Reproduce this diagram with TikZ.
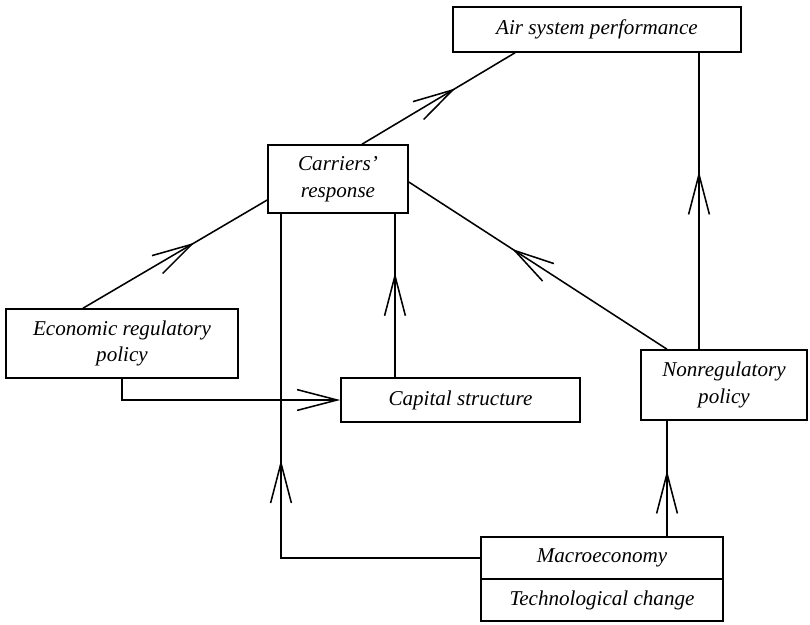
\documentclass[tikz,border=0pt]{standalone}
\usepackage{fontspec}
\setmainfont{Liberation Serif}
\usetikzlibrary{arrows.meta,decorations.markings}

\begin{document}
\begin{tikzpicture}
  [x=0.025cm,y=-0.025cm,line width=1.1pt,
   every node/.style={draw,rectangle,align=center,inner sep=0pt,
     font=\itshape\fontsize{15}{19}\selectfont},
   midarrow/.style={postaction={decorate,decoration={markings,
     mark=at position #1 with {\arrow{Straight Barb[length=1cm,width=0.52cm,line width=1.1pt]}}}}}]
  \useasboundingbox (0,0) rectangle (810,625);

  \node[minimum width=7.2cm,minimum height=1.125cm] (air) at (597,29.5) {Air system performance};
  \node[minimum width=3.5cm,minimum height=1.7cm] (carriers) at (338,179) {Carriers'\\response};
  \node[minimum width=5.8cm,minimum height=1.725cm] (econ) at (122,343.5) {Economic regulatory\\policy};
  \node[minimum width=5.975cm,minimum height=1.1cm] (capital) at (460.5,400) {Capital structure};
  \node[minimum width=4.15cm,minimum height=1.75cm] (nonreg) at (724,385) {Nonregulatory\\policy};
  \node[minimum width=6.05cm,minimum height=1.05cm] (macro) at (602,558) {Macroeconomy};
  \node[minimum width=6.05cm,minimum height=1.05cm] (tech) at (602,600) {Technological change};

  \coordinate (nrtop) at ([xshift=-0.625cm]nonreg.north);
  \coordinate (captop) at ([xshift=-1.6375cm]capital.north);
  \coordinate (mactop) at ([xshift=1.625cm]macro.north);

  \draw[midarrow=0.61] ([xshift=0.6cm]carriers.north) -- ([xshift=-2.05cm]air.south);
  \draw[midarrow=0.6] (nrtop) -- (nrtop |- air.south);
  \draw[midarrow=0.605] ([xshift=-0.975cm]econ.north) -- ([yshift=-0.525cm]carriers.west);
  \draw[midarrow=0.6] ([xshift=-1.425cm]nonreg.north) -- ([yshift=-0.075cm]carriers.east);
  \draw[midarrow=0.64] (captop) -- (captop |- carriers.south);
  \draw[-{Straight Barb[length=1cm,width=0.52cm]}] (econ.south) |- (capital.west);
  \draw[midarrow=0.547] (macro.west) -| ([xshift=-1.425cm]carriers.south);
  \draw[midarrow=0.57] (mactop) -- (mactop |- nonreg.south);
\end{tikzpicture}
\end{document}
